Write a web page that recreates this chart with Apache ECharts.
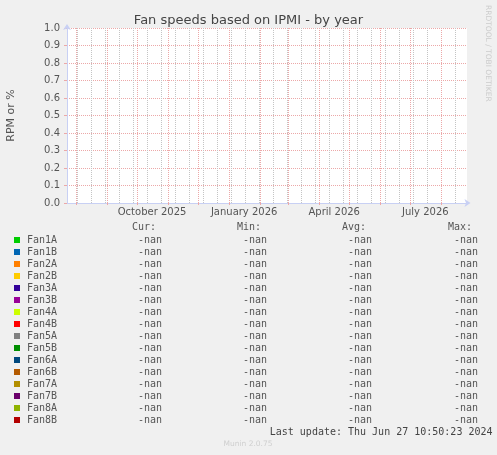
<!DOCTYPE html>
<html><head><meta charset="utf-8">
<script src="https://cdn.jsdelivr.net/npm/echarts@6/dist/echarts.min.js"></script>
<style>html,body{margin:0;padding:0;background:#f0f0f0;}#c{width:497px;height:455px;}</style>
</head><body><div id="c"></div>
<script>
// ---- data ----
const fanNames = ['Fan1A','Fan1B','Fan2A','Fan2B','Fan3A','Fan3B','Fan4A','Fan4B',
                  'Fan5A','Fan5B','Fan6A','Fan6B','Fan7A','Fan7B','Fan8A','Fan8B'];
const fanColors = ['#00CC00','#0066B3','#FF8000','#FFCC00','#330099','#990099','#CCFF00','#FF0000',
                   '#808080','#008F00','#00487D','#B35A00','#B38F00','#6B006B','#8FB300','#B30000'];
// no valid samples in the whole period (all NaN)
const fanValues = [[],[],[],[],[],[],[],[],[],[],[],[],[],[],[],[]];
const curValues = ['-nan','-nan','-nan','-nan','-nan','-nan','-nan','-nan','-nan','-nan','-nan','-nan','-nan','-nan','-nan','-nan'];
const minValues = ['-nan','-nan','-nan','-nan','-nan','-nan','-nan','-nan','-nan','-nan','-nan','-nan','-nan','-nan','-nan','-nan'];
const avgValues = ['-nan','-nan','-nan','-nan','-nan','-nan','-nan','-nan','-nan','-nan','-nan','-nan','-nan','-nan','-nan','-nan'];
const maxValues = ['-nan','-nan','-nan','-nan','-nan','-nan','-nan','-nan','-nan','-nan','-nan','-nan','-nan','-nan','-nan','-nan'];
const columnHeaders = ['Cur:','Min:','Avg:','Max:'];
const xLabelDates = ['2025-10-16','2026-01-16','2026-04-16','2026-07-16'];
const xLabelTexts = ['October 2025','January 2026','April 2026','July 2026'];
const monthStarts = ['2025-08-01','2025-09-01','2025-10-01','2025-11-01','2025-12-01','2026-01-01','2026-02-01',
                     '2026-03-01','2026-04-01','2026-05-01','2026-06-01','2026-07-01','2026-08-01'];
const xStart = '2025-07-23T00:00:00Z';
const xEnd = '2026-08-26T16:00:00Z';
const yTicks = [0.0,0.1,0.2,0.3,0.4,0.5,0.6,0.7,0.8,0.9,1.0];
const titleText = 'Fan speeds based on IPMI - by year';
const yAxisTitle = 'RPM or %';
const lastUpdate = 'Last update: Thu Jun 27 10:50:23 2024';
const versionText = 'Munin 2.0.75';
const sideText = 'RRDTOOL / TOBI OETIKER';

// ---- helpers ----
const t = s => Date.parse(s.length === 10 ? s + 'T00:00:00Z' : s);
const DAY = 86400000;
const minorStart = t('2025-08-02');
const minorLines = [];
for (let v = minorStart; v <= t(xEnd); v += 14 * DAY) minorLines.push(v);
const labelMap = {};
xLabelDates.forEach((d, i) => { labelMap[t(d)] = xLabelTexts[i]; });

const SANS = 'DejaVu Sans';
const MONO = 'DejaVu Sans Mono';
const TXT = '#555555';
const AXIS = '#C8D0F4';
const MGRID = '#ECA8A8';
const GRID = '#C4C4C4';

const chart = echarts.init(document.getElementById('c'), null, {renderer: 'canvas'});

const series = fanNames.map((n, i) => ({
  name: n, type: 'line', data: fanValues[i], showSymbol: false,
  lineStyle: {color: fanColors[i], width: 1}, itemStyle: {color: fanColors[i]}, animation: false
}));
series.push({
  name: 'minorgrid', type: 'line', data: [], silent: true, animation: false, z: 1,
  markLine: {silent: true, symbol: 'none', animation: false, label: {show: false},
    lineStyle: {color: GRID, type: [1, 1], width: 1},
    data: minorLines.map(v => ({xAxis: v}))}
});
series.push({
  name: 'majorgrid', type: 'line', data: [], silent: true, animation: false, z: 2,
  markLine: {silent: true, symbol: 'none', animation: false, label: {show: false},
    lineStyle: {color: MGRID, type: [1, 1], width: 1},
    data: monthStarts.map(d => ({xAxis: t(d)}))}
});

// legend table as graphic text
const g = [];
const colRight = [162, 267, 372, 478];
const headRight = [156, 261, 366, 472];
const cols = [curValues, minValues, avgValues, maxValues];
const rowY0 = 240, rowStep = 12;
columnHeaders.forEach((h, j) => g.push({type: 'text', x: headRight[j], y: 227.5,
  style: {text: h, font: '10px ' + MONO, fill: TXT, align: 'right', textAlign: 'right', verticalAlign: 'middle', textVerticalAlign: 'middle'}}));
fanNames.forEach((n, i) => {
  const y = rowY0 + i * rowStep;
  g.push({type: 'rect', shape: {x: 14, y: y - 3, width: 6, height: 6}, style: {fill: fanColors[i]}});
  g.push({type: 'text', x: 27, y: y,
    style: {text: n, font: '10px ' + MONO, fill: TXT, align: 'left', textAlign: 'left', verticalAlign: 'middle', textVerticalAlign: 'middle'}});
  cols.forEach((c, j) => g.push({type: 'text', x: colRight[j], y: y,
    style: {text: c[i], font: '10px ' + MONO, fill: TXT, align: 'right', textAlign: 'right', verticalAlign: 'middle', textVerticalAlign: 'middle'}}));
});
g.push({type: 'text', x: 492.5, y: 432,
  style: {text: lastUpdate, font: '10px ' + MONO, fill: '#444', align: 'right', textAlign: 'right', verticalAlign: 'middle', textVerticalAlign: 'middle'}});
g.push({type: 'text', x: 248, y: 444,
  style: {text: versionText, font: '7.5px ' + SANS, fill: '#cfcfcf', align: 'center', textAlign: 'center', verticalAlign: 'middle', textVerticalAlign: 'middle'}});
g.push({type: 'text', x: 487.5, y: 5, rotation: -Math.PI / 2,
  style: {text: sideText, font: '7.5px ' + SANS, fill: '#cccccc', align: 'left', textAlign: 'left', verticalAlign: 'middle', textVerticalAlign: 'middle'}});

chart.setOption({
  animation: false,
  backgroundColor: '#F0F0F0',
  title: {text: titleText, left: 'center', top: 9,
    textStyle: {fontFamily: SANS, fontSize: 13, fontWeight: 'normal', color: '#444'}},
  grid: {left: 67, top: 28, width: 400, height: 175, show: true, backgroundColor: '#ffffff', borderWidth: 0,
    containLabel: false, outerBoundsMode: 'none'},
  xAxis: {
    type: 'value', min: t(xStart), max: t(xEnd),
    splitLine: {show: false},
    axisLine: {show: true, lineStyle: {color: AXIS, width: 1}, symbol: ['none', 'arrow'], symbolSize: [6, 6], symbolOffset: [0, 3.5]},
    axisTick: {show: true, customValues: monthStarts.map(t), length: 2, lineStyle: {color: MGRID}},
    axisLabel: {customValues: xLabelDates.map(t), formatter: v => labelMap[v] || '', color: TXT,
      fontFamily: SANS, fontSize: 10, margin: 4, hideOverlap: false, showMinLabel: true, showMaxLabel: true}
  },
  yAxis: {
    type: 'value', min: yTicks[0], max: yTicks[yTicks.length - 1], interval: 0.1,
    name: yAxisTitle, nameLocation: 'middle', nameGap: 50, nameRotate: 90,
    nameTextStyle: {fontFamily: SANS, fontSize: 11, color: TXT},
    axisLine: {show: true, lineStyle: {color: AXIS, width: 1}, symbol: ['none', 'arrow'], symbolSize: [6, 6], symbolOffset: [0, 4]},
    axisTick: {show: true, length: 3, lineStyle: {color: MGRID}},
    axisLabel: {formatter: v => v.toFixed(1), color: TXT, fontFamily: SANS, fontSize: 10, margin: 7},
    splitLine: {show: true, lineStyle: {color: MGRID, type: [1, 1], width: 1}}
  },
  legend: {show: false},
  tooltip: {show: false},
  graphic: g,
  series: series
});
</script></body></html>
